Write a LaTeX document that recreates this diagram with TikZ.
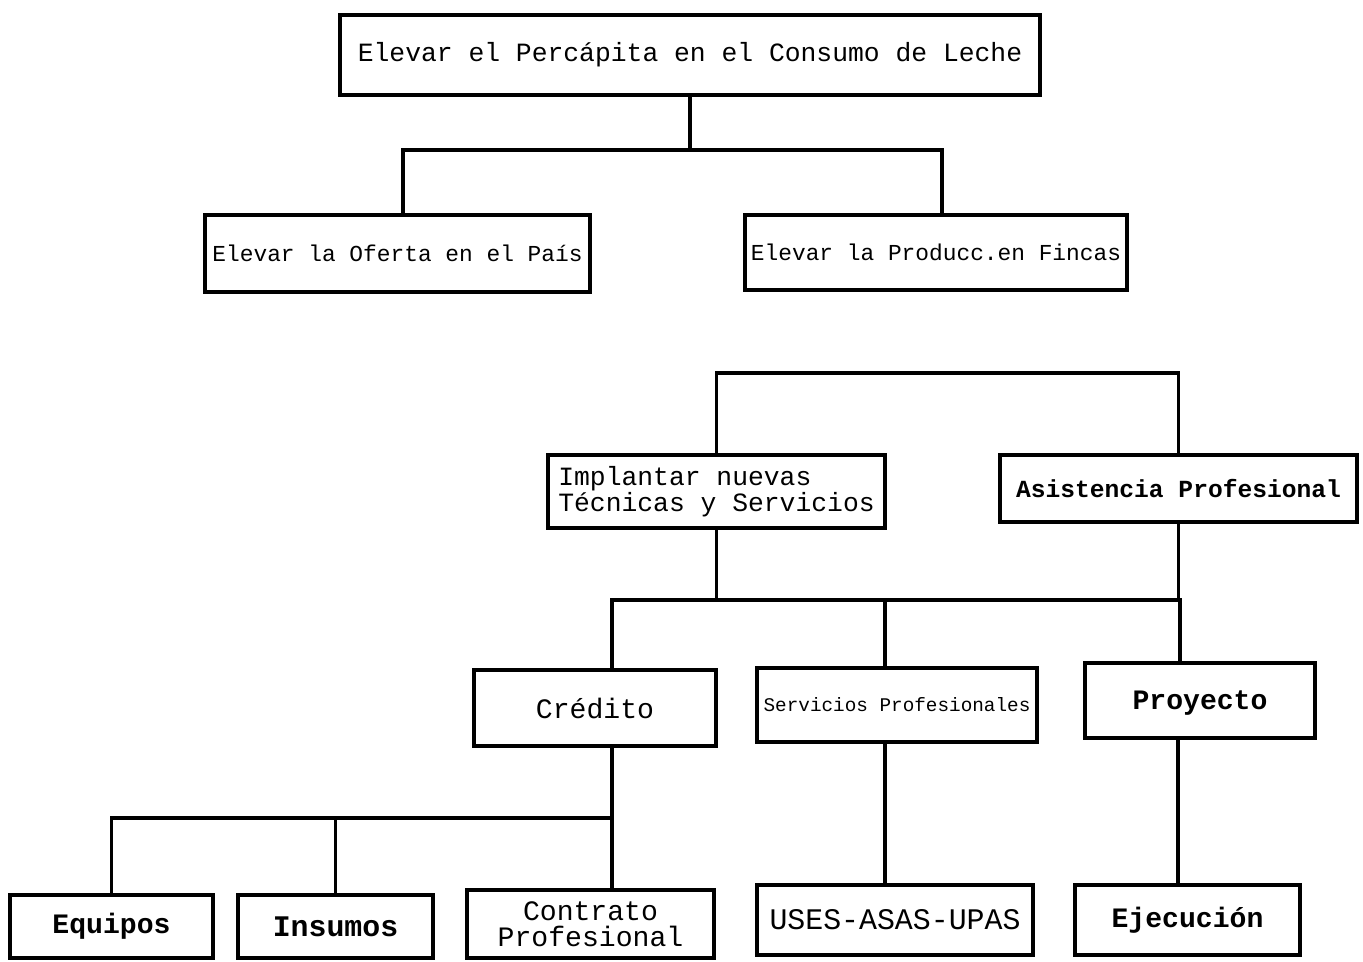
\documentclass[tikz,border=0pt]{standalone}
\usepackage{fontspec}
\setmonofont{Liberation Mono}
\usepackage{tikz}

\begin{document}
\begin{tikzpicture}[line width=2.2pt,
    caja/.style = {draw, inner sep=0pt, align=center},
    letra/.style = {font=\ttfamily\fontsize{#1}{#1}\selectfont}]
    \useasboundingbox (0,0) rectangle (27.26,-19.22);
    % primer nivel
    \node[caja, letra=15, minimum width=14cm, minimum height=1.6cm] (consumo) at (13.8,-1.1)
        {Elevar el Percápita en el Consumo de Leche};
    \node[caja, letra=13, minimum width=7.7cm, minimum height=1.54cm] (oferta) at (7.95,-5.07)
        {Elevar la Oferta en el País};
    \node[caja, letra=13, minimum width=7.64cm, minimum height=1.5cm] (produc) at (18.72,-5.05)
        {Elevar la Producc.en Fincas};
    \coordinate (b1) at (0,-3.0);
    \draw (consumo.south) -- (consumo.south |- b1);
    \draw ([xshift=1.1mm]oferta.north) |- ([xshift=1.2mm]produc.north |- b1) -- ([xshift=1.2mm]produc.north);
    % segundo nivel
    \node[caja, letra=15, align=left, minimum width=6.74cm, minimum height=1.46cm] (tecnicas) at (14.33,-9.83)
        {Implantar nuevas\\Técnicas y Servicios};
    \node[caja, font=\bfseries\ttfamily\fontsize{14}{14}\selectfont, minimum width=7.14cm, minimum height=1.34cm] (asistencia) at (23.57,-9.77)
        {Asistencia Profesional};
    \coordinate (b2) at (0,-7.46);
    \draw (tecnicas.north) |- (asistencia.north |- b2) -- (asistencia.north);
    % tercer nivel
    \node[caja, letra=16, minimum width=4.84cm, minimum height=1.52cm, text depth=-3mm] (credito) at (11.9,-14.16)
        {Crédito};
    \node[caja, letra=11, minimum width=5.6cm, minimum height=1.48cm] (servicios) at (17.94,-14.1)
        {Servicios Profesionales};
    \node[caja, font=\bfseries\ttfamily\fontsize{16}{16}\selectfont, minimum width=4.6cm, minimum height=1.5cm, text depth=-3mm] (proyecto) at (24,-14.01)
        {Proyecto};
    \coordinate (b3) at (0,-12.0);
    \draw (tecnicas.south) -- (tecnicas.south |- b3);
    \draw (asistencia.south) -- (asistencia.south |- b3);
    \draw ([xshift=3.4mm]credito.north) |- ([xshift=-4mm]proyecto.north |- b3) -- ([xshift=-4mm]proyecto.north);
    \draw ([xshift=-2.4mm]servicios.north) -- ([xshift=-2.4mm]servicios.north |- b3);
    % cuarto nivel
    \node[caja, font=\bfseries\ttfamily\fontsize{16}{16}\selectfont, minimum width=4.06cm, minimum height=1.26cm] (equipos) at (2.23,-18.53)
        {Equipos};
    \node[caja, font=\bfseries\ttfamily\fontsize{17}{17}\selectfont, minimum width=3.9cm, minimum height=1.26cm] (insumos) at (6.71,-18.53)
        {Insumos};
    \node[caja, font=\ttfamily\fontsize{16}{15}\selectfont, minimum width=4.94cm, minimum height=1.36cm] (contrato) at (11.81,-18.48)
        {Contrato\\Profesional};
    \node[caja, letra=17, minimum width=5.52cm, minimum height=1.4cm] (uses) at (17.9,-18.4)
        {USES-ASAS-UPAS};
    \node[caja, font=\bfseries\ttfamily\fontsize{16}{16}\selectfont, minimum width=4.5cm, minimum height=1.4cm] (ejecucion) at (23.75,-18.4)
        {Ejecución};
    \coordinate (b4) at (0,-16.36);
    \draw ([xshift=3.4mm]credito.south) -- ([xshift=4.3mm]contrato.north);
    \draw (equipos.north) |- ([xshift=4.3mm]contrato.north |- b4);
    \draw (insumos.north) -- (insumos.north |- b4);
    \draw ([xshift=-2.4mm]servicios.south) -- ([xshift=-2.4mm]servicios.south |- uses.north);
    \draw ([xshift=-4.4mm]proyecto.south) -- ([xshift=-4.4mm]proyecto.south |- ejecucion.north);
\end{tikzpicture}
\end{document}
